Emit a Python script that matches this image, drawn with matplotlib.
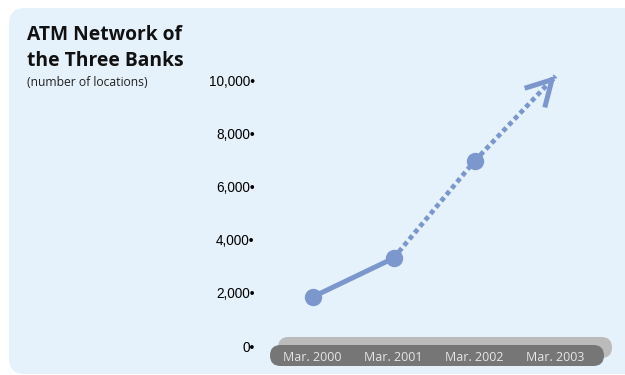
import matplotlib
matplotlib.use("Agg")

import matplotlib.pyplot as plt
from matplotlib.patches import FancyBboxPatch

# Data
periods = ["Mar. 2000", "Mar. 2001", "Mar. 2002", "Mar. 2003"]
actual = [1840, 3300, 6950]          # Mar. 2000 - Mar. 2002
target = [6950, 10150]                # projection Mar. 2002 -> Mar. 2003
y_ticks = [0, 2000, 4000, 6000, 8000, 10000]

blue = "#7b97cd"
panel = "#e5f1fb"

fig = plt.figure(figsize=(6.25, 3.75), dpi=100)

# Background axes in pixel coordinates (origin top-left)
bg = fig.add_axes([0, 0, 1, 1])
bg.set_xlim(0, 625)
bg.set_ylim(375, 0)
bg.axis("off")
bg.add_patch(FancyBboxPatch((9, 8), 660, 366, boxstyle="round,pad=0,rounding_size=16",
                            fc=panel, ec="none"))
# 3D looking time bar
bg.add_patch(FancyBboxPatch((278, 337), 334, 21, boxstyle="round,pad=0,rounding_size=10.5",
                            fc="#bbbbbb", ec="none"))
bg.add_patch(FancyBboxPatch((270, 345), 334, 21, boxstyle="round,pad=0,rounding_size=10.5",
                            fc="#767676", ec="none"))

bg.text(27, 40, "ATM Network of", fontsize=13.9, fontweight="bold", family="Open Sans",
        color="#111111", va="baseline")
bg.text(27, 66, "the Three Banks", fontsize=13.9, fontweight="bold", family="Open Sans",
        color="#111111", va="baseline")
bg.text(27, 86, "(number of locations)", fontsize=8.7, family="Open Sans",
        color="#222222", va="baseline")

# Chart axes
ax = fig.add_axes([272 / 625, 29 / 375, 324 / 625, 266 / 375])
ax.set_facecolor("none")
ax.set_xlim(-0.5, 3.5)
ax.set_ylim(0, 10000)
for s in ax.spines.values():
    s.set_visible(False)

x = list(range(len(periods)))

ax.plot(x[:2], actual[:2], color=blue, lw=3.6, solid_capstyle="round", zorder=3)
ax.plot(x[1:3], actual[1:3], color=blue, lw=3.4, linestyle=(0, (1, 0.75)),
        dash_capstyle="butt", zorder=3)
ax.plot(x[2:], target, color=blue, lw=3.4, linestyle=(0, (1, 0.75)),
        dash_capstyle="butt", zorder=3, clip_on=False)
ax.plot(x[:3], actual, "o", color=blue, ms=11.5, zorder=4)

# open arrow head at the projection
fx = x[2] + 0.96 * (x[3] - x[2])
fy = target[0] + 0.96 * (target[1] - target[0])
ax.annotate("", xy=(x[3], target[1]), xytext=(fx, fy),
            arrowprops=dict(arrowstyle="->,head_length=0.9,head_width=0.5",
                            mutation_scale=20, lw=3.6, color=blue,
                            shrinkA=0, shrinkB=0, joinstyle="miter", capstyle="butt"),
            annotation_clip=False)

ax.set_yticks(y_ticks)
ax.set_yticklabels([f"{v:,}•" for v in y_ticks], family="Liberation Sans", fontsize=9.8)
ax.set_xticks(x)
ax.set_xticklabels(periods, family="Open Sans", fontsize=9, color="#e6e6e6")
ax.tick_params(axis="y", length=0, pad=12.5)
ax.tick_params(axis="x", length=0, pad=3.5)

fig.savefig("out.png", dpi=100)
